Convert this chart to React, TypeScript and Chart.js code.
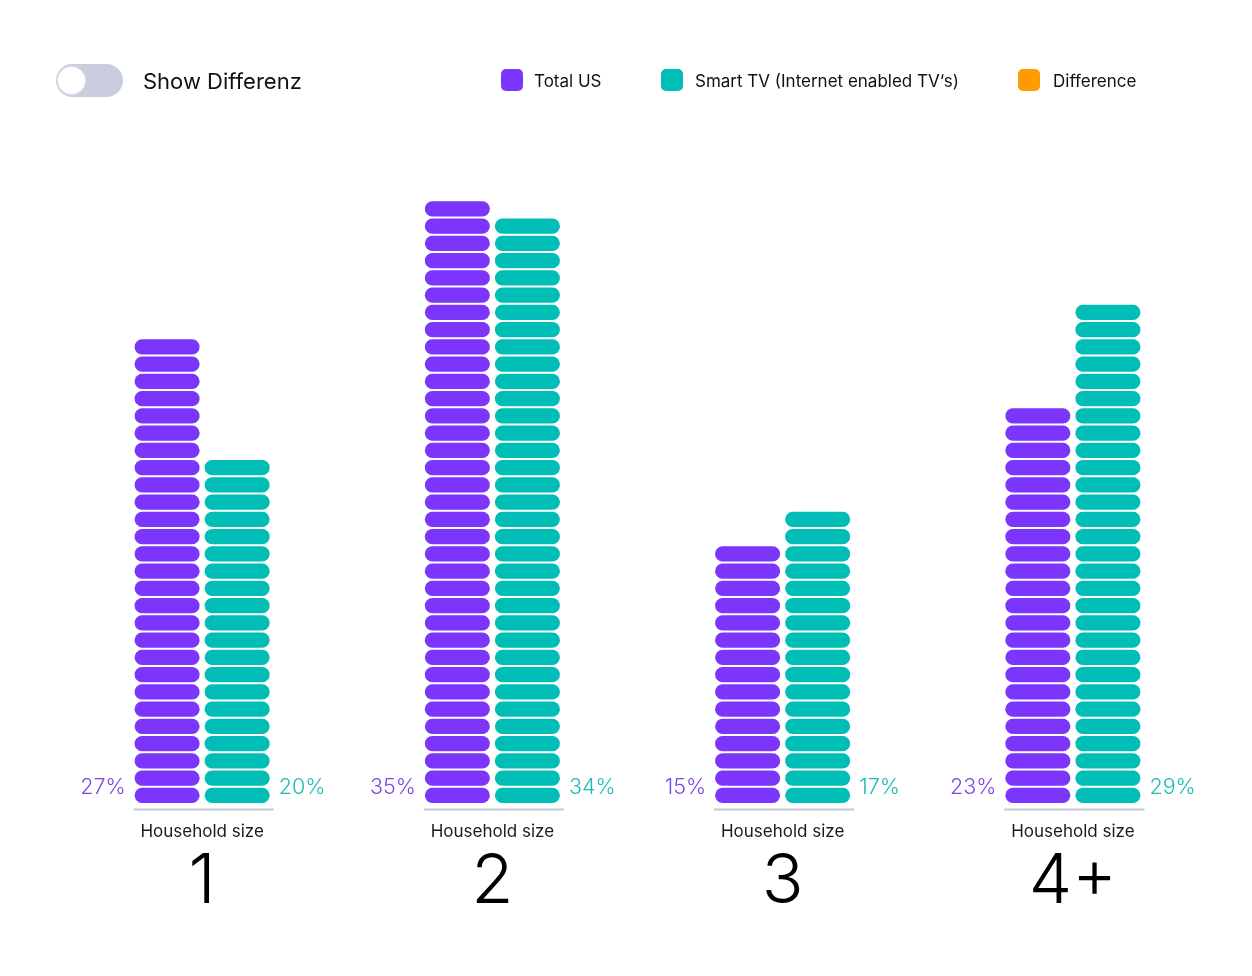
import React, { useEffect, useRef } from "react";
import { Chart, registerables } from "chart.js";

Chart.register(...registerables);

const categories = ["1", "2", "3", "4+"];
const axisCaption = "Household size";
const totalUS = [27, 35, 15, 23];
const smartTV = [20, 34, 17, 29];
const seriesNames = ["Total US", "Smart TV (Internet enabled TV‘s)", "Difference"];
const seriesColors = ["#7B35FB", "#00BDB6", "#FF9A00"];
const labelColors = ["#7A46E4", "#1DBDB4"];
const yMax = 40;
const FONT = "Inter, 'Noto Sans', sans-serif";

const pillPlugin = {
  id: "pills",
  beforeDatasetsDraw(chart: any) {
    const ctx = chart.ctx;
    const y = chart.scales.y;
    const gap = 2.2;
    chart.data.datasets.forEach((ds: any, di: number) => {
      const meta = chart.getDatasetMeta(di);
      meta.data.forEach((bar: any, i: number) => {
        const { x, width } = bar.getProps(["x", "width"], true);
        const v = ds.data[i];
        ctx.save();
        ctx.fillStyle = ds.backgroundColor;
        for (let k = 0; k < v; k++) {
          const top = y.getPixelForValue(k + 1) + gap / 2;
          const bottom = y.getPixelForValue(k) - gap / 2;
          const h = bottom - top;
          ctx.beginPath();
          ctx.roundRect(x - width / 2, top, width, h, h / 2);
          ctx.fill();
        }
        ctx.restore();
      });
    });
    return false;
  },
  afterDraw(chart: any) {
    const ctx = chart.ctx;
    const y = chart.scales.y;
    const base = y.getPixelForValue(0);
    const m0 = chart.getDatasetMeta(0);
    const m1 = chart.getDatasetMeta(1);
    categories.forEach((cat, i) => {
      const b0 = m0.data[i].getProps(["x", "width"], true);
      const b1 = m1.data[i].getProps(["x", "width"], true);
      const left = b0.x - b0.width / 2;
      const right = b1.x + b1.width / 2;
      const cx = (left + right) / 2;
      ctx.save();
      // baseline
      ctx.strokeStyle = "#C6C8D4";
      ctx.lineWidth = 2;
      ctx.beginPath();
      ctx.moveTo(left - 1, base + 5.5);
      ctx.lineTo(right + 4, base + 5.5);
      ctx.stroke();
      // percent labels
      ctx.font = `300 21.5px ${FONT}`;
      ctx.textBaseline = "middle";
      ctx.fillStyle = labelColors[0];
      ctx.textAlign = "right";
      ctx.fillText(`${totalUS[i]}%`, left - 9, base - 16);
      ctx.fillStyle = labelColors[1];
      ctx.textAlign = "left";
      ctx.fillText(`${smartTV[i]}%`, right + 9, base - 16);
      // captions
      ctx.fillStyle = "#1a1a1a";
      ctx.textAlign = "center";
      ctx.font = `400 17px ${FONT}`;
      ctx.fillText(axisCaption, cx, base + 27.5);
      ctx.fillStyle = "#000";
      ctx.font = `300 69px ${FONT}`;
      ctx.fillText(cat, cx, base + 78);
      ctx.restore();
    });
  },
};

export default function App() {
  const ref = useRef<HTMLCanvasElement | null>(null);
  useEffect(() => {
    if (!ref.current) return;
    const chart = new Chart(ref.current, {
      type: "bar",
      data: {
        labels: categories,
        datasets: [
          { label: seriesNames[0], data: totalUS, backgroundColor: seriesColors[0] },
          { label: seriesNames[1], data: smartTV, backgroundColor: seriesColors[1] },
        ],
      },
      options: {
        responsive: false,
        animation: false,
        layout: { padding: { top: 114, bottom: 172, left: 57, right: 34 } },
        datasets: {
          bar: { categoryPercentage: 140 / 290, barPercentage: 65 / 70 },
        } as any,
        plugins: { legend: { display: false }, tooltip: { enabled: false } },
        scales: {
          x: { display: false },
          y: { display: false, min: 0, max: yMax },
        },
      },
      plugins: [pillPlugin as any],
    });
    return () => chart.destroy();
  }, []);

  return (
    <div style={{ position: "absolute", left: 0, top: 0, width: 1252, height: 976, background: "#fff", fontFamily: FONT }}>
      <canvas ref={ref} width={1252} height={976} style={{ position: "absolute", left: 0, top: 0 }} />
      {/* toggle */}
      <div
        style={{
          position: "absolute", left: 56, top: 64, width: 67, height: 33, borderRadius: 17,
          background: "#C9CDDD",
        }}
      >
        <div
          style={{
            position: "absolute", left: 1, top: 2, width: 29, height: 29, borderRadius: "50%",
            background: "#fff", boxSizing: "border-box", border: "1px solid #E2E4EC",
          }}
        />
      </div>
      <div style={{ position: "absolute", left: 143, top: 66, fontSize: 22, lineHeight: "30px", color: "#111" }}>
        Show Differenz
      </div>
      {/* legend */}
      {[
        { sq: 501, tx: 534 },
        { sq: 661, tx: 695 },
        { sq: 1018, tx: 1053 },
      ].map((p, i) => (
        <React.Fragment key={i}>
          <div
            style={{
              position: "absolute", left: p.sq, top: 69, width: 22, height: 22, borderRadius: 5,
              background: seriesColors[i],
            }}
          />
          <div style={{ position: "absolute", left: p.tx, top: 69, fontSize: 17, lineHeight: "24px", color: "#111" }}>
            {seriesNames[i]}
          </div>
        </React.Fragment>
      ))}
    </div>
  );
}
